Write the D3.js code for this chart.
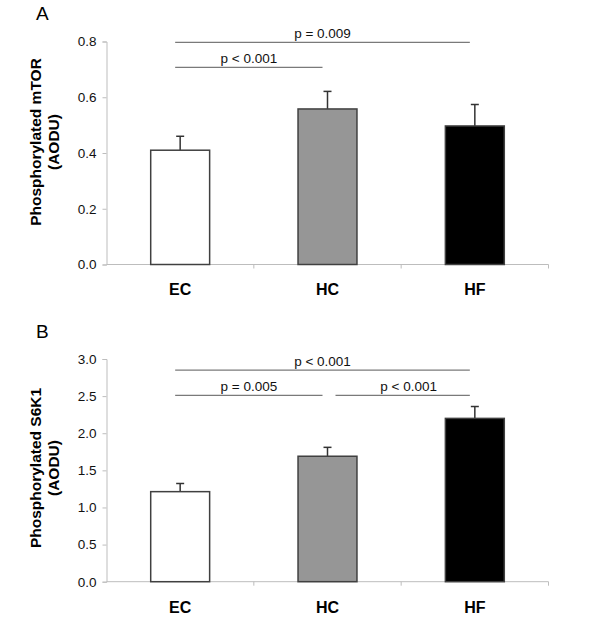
<!DOCTYPE html>
<html>
<head>
<meta charset="utf-8">
<script src="https://cdn.jsdelivr.net/npm/d3@7"></script>
<style>
  html, body { margin: 0; padding: 0; background: #fff; }
  svg { display: block; font-family: Arial, "Liberation Sans", sans-serif; }
</style>
</head>
<body>
<svg id="chart" width="600" height="630"></svg>
<script>
// ---- data ----
const categories = ["EC", "HC", "HF"];
const barColors = ["#ffffff", "#969696", "#000000"];

const mtorValues = [0.41, 0.558, 0.497];
const mtorErrors = [0.05, 0.063, 0.077];
const mtorTicks = [0.0, 0.2, 0.4, 0.6, 0.8];
const mtorBrackets = [
  { from: "EC", to: "HF", y: 0.797, label: "p = 0.009" },
  { from: "EC", to: "HC", y: 0.707, label: "p < 0.001" }
];

const s6kValues = [1.213, 1.69, 2.2];
const s6kErrors = [0.11, 0.12, 0.16];
const s6kTicks = [0.0, 0.5, 1.0, 1.5, 2.0, 2.5, 3.0];
const s6kBrackets = [
  { from: "EC", to: "HF", y: 2.85, label: "p < 0.001" },
  { from: "EC", to: "HC", y: 2.51, label: "p = 0.005" },
  { from: "HC", to: "HF", y: 2.51, label: "p < 0.001" }
];

const panels = [
  { letter: "A", title: ["Phosphorylated mTOR", "(AODU)"], values: mtorValues, errors: mtorErrors,
    ticks: mtorTicks, max: 0.8, brackets: mtorBrackets, top: 41.5, bottom: 264.5, titleY: 142, letterY: 20, catY: 295 },
  { letter: "B", title: ["Phosphorylated S6K1", "(AODU)"], values: s6kValues, errors: s6kErrors,
    ticks: s6kTicks, max: 3.0, brackets: s6kBrackets, top: 359, bottom: 581.7, titleY: 468, letterY: 337.5, catY: 613 }
];

const svg = d3.select("#chart");
const left = 106.5, right = 548.5;

panels.forEach(p => {
  const g = svg.append("g");
  const x = d3.scaleBand().domain(categories).range([left, right]).padding(0);
  const y = d3.scaleLinear().domain([0, p.max]).range([p.bottom, p.top]);
  const bw = x.bandwidth() * 0.4;
  const cx = c => x(c) + x.bandwidth() / 2;

  // y axis
  const yAxis = d3.axisLeft(y).tickValues(p.ticks).tickFormat(d3.format(".1f")).tickSize(4).tickPadding(6);
  const ya = g.append("g").attr("transform", `translate(${left},0)`).call(yAxis);
  ya.select(".domain").attr("stroke", "#bdbdbd");
  ya.selectAll(".tick line").attr("stroke", "#bdbdbd");
  ya.selectAll(".tick text").attr("font-size", "13.5px").attr("fill", "#111")
    .attr("font-family", "Arial, 'Liberation Sans', sans-serif");

  // x axis (ticks at category boundaries)
  const xa = g.append("g").attr("transform", `translate(0,${p.bottom})`);
  xa.append("line").attr("x1", left).attr("x2", right).attr("stroke", "#bdbdbd");
  xa.selectAll("line.tk").data(categories.slice(1).concat(["__end"]))
    .join("line").attr("class", "tk")
    .attr("x1", d => d === "__end" ? right : x(d))
    .attr("x2", d => d === "__end" ? right : x(d))
    .attr("y1", 0).attr("y2", 4).attr("stroke", "#bdbdbd");

  // category labels
  g.selectAll("text.cat").data(categories).join("text").attr("class", "cat")
    .attr("x", d => cx(d)).attr("y", p.catY).attr("text-anchor", "middle")
    .attr("font-size", "16px").attr("font-weight", "bold").attr("fill", "#000").text(d => d);

  // error bars (upward only)
  const data = categories.map((c, i) => ({ c, v: p.values[i], e: p.errors[i], color: barColors[i] }));
  const eb = g.selectAll("g.eb").data(data).join("g").attr("class", "eb");
  eb.append("line").attr("x1", d => cx(d.c)).attr("x2", d => cx(d.c))
    .attr("y1", d => y(d.v)).attr("y2", d => y(d.v + d.e)).attr("stroke", "#333").attr("stroke-width", 1.5);
  eb.append("line").attr("x1", d => cx(d.c) - 4).attr("x2", d => cx(d.c) + 4)
    .attr("y1", d => y(d.v + d.e)).attr("y2", d => y(d.v + d.e)).attr("stroke", "#333").attr("stroke-width", 1.5);

  // bars
  g.selectAll("rect.bar").data(data).join("rect").attr("class", "bar")
    .attr("x", d => cx(d.c) - bw / 2).attr("width", bw)
    .attr("y", d => y(d.v)).attr("height", d => y(0) - y(d.v))
    .attr("fill", d => d.color).attr("stroke", "#404040").attr("stroke-width", 1.5);

  // significance brackets
  const bx1 = b => cx(b.from) + (b.from === "HC" ? 8 : -5);
  const bx2 = b => cx(b.to) - 5;
  g.selectAll("line.br").data(p.brackets).join("line").attr("class", "br")
    .attr("x1", bx1).attr("x2", bx2).attr("y1", b => y(b.y)).attr("y2", b => y(b.y))
    .attr("stroke", "#7a7a7a").attr("stroke-width", 1.2);
  g.selectAll("text.br").data(p.brackets).join("text").attr("class", "br")
    .attr("x", b => (bx1(b) + bx2(b)) / 2 + (b.from === "HC" ? 6 : 0)).attr("y", b => y(b.y) - 4)
    .attr("text-anchor", "middle").attr("font-size", "13.5px").attr("fill", "#111").text(b => b.label);

  // y title
  const t = g.append("text").attr("transform", `translate(40.5,${p.titleY}) rotate(-90)`)
    .attr("text-anchor", "middle").attr("font-size", "15.5px").attr("font-weight", "bold").attr("fill", "#000");
  t.append("tspan").attr("x", 0).attr("y", 0).text(p.title[0]);
  t.append("tspan").attr("x", 0).attr("y", 18.8).text(p.title[1]);

  // panel letter
  g.append("text").attr("x", 36).attr("y", p.letterY).attr("font-size", "19px").attr("fill", "#000").text(p.letter);
});
</script>
</body>
</html>
